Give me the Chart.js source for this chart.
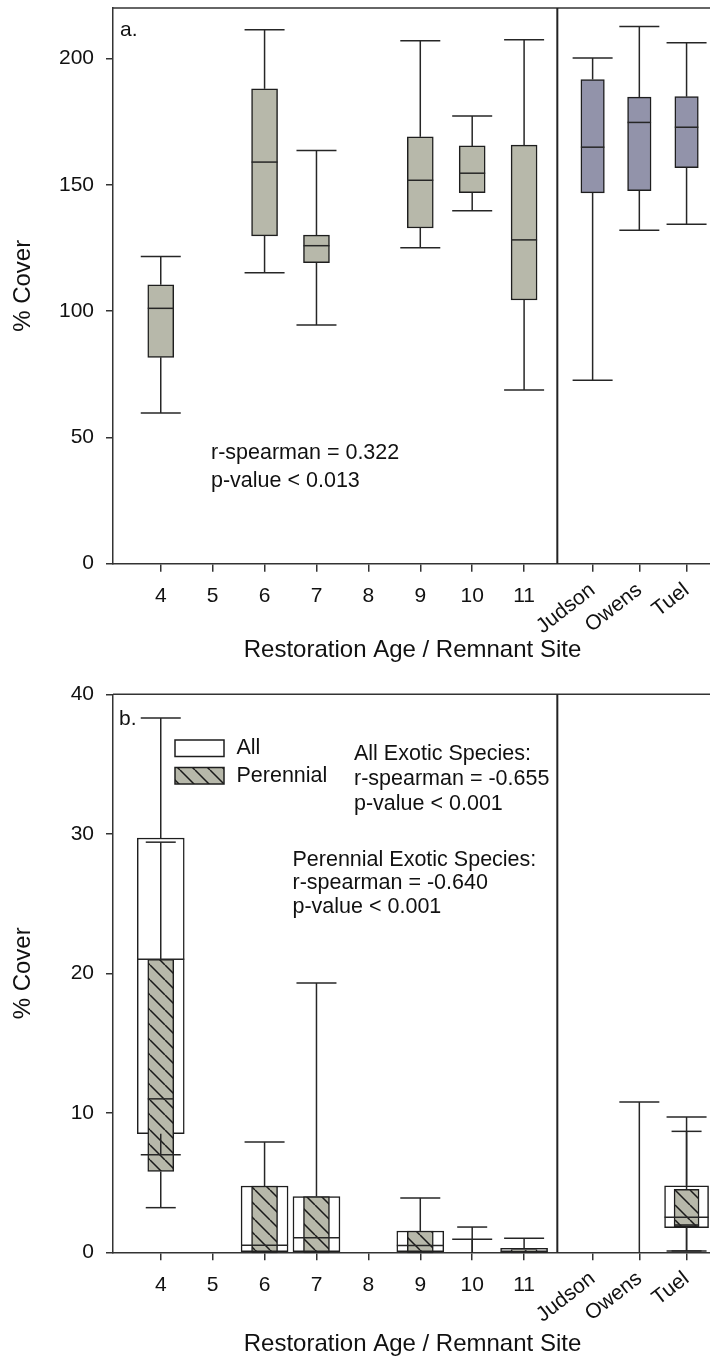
<!DOCTYPE html>
<html>
<head>
<meta charset="utf-8">
<title>% Cover by restoration age and remnant site</title>
<script src="https://cdn.jsdelivr.net/npm/chart.js@4.4.1/dist/chart.umd.min.js"></script>
<style>
  html, body { margin: 0; padding: 0; background: #fff; overflow: hidden; width: 710px; height: 1359px; }
  .panel { position: relative; width: 712px; }
  canvas { display: block; }
</style>
</head>
<body>
<div class="panel"><canvas id="coverChart" width="712" height="665"></canvas></div>
<div class="panel"><canvas id="exoticChart" width="712" height="694"></canvas></div>
<script>
// ---- categories ----
const ages = [4, 5, 6, 7, 8, 9, 10, 11];
const sites = ['Judson', 'Owens', 'Tuel'];
const sampledAges = [4, 6, 7, 9, 10, 11];

// ---- panel a: total % cover (restorations) ----
const coverMin    = [59.7, 115.2, 94.5, 125.1, 139.7, 68.8];
const coverQ1     = [81.7, 129.8, 119.2, 132.9, 146.9, 104.4];
const coverMedian = [101.1, 159.0, 125.9, 151.8, 154.6, 128.2];
const coverQ3     = [110.4, 188.0, 130.1, 169.0, 165.4, 165.7];
const coverMax    = [121.6, 211.4, 163.6, 207.0, 177.2, 207.4];

// ---- panel a: total % cover (remnant sites) ----
const remnantCoverMin    = [72.6, 132.0, 134.4];
const remnantCoverQ1     = [146.8, 147.7, 156.8];
const remnantCoverMedian = [164.9, 174.7, 172.8];
const remnantCoverQ3     = [191.7, 184.7, 184.9];
const remnantCoverMax    = [200.2, 212.7, 206.2];

// ---- panel b: all exotic species (restorations) ----
const allMin    = [7.0, 0, 0, 0, 0, 0];
const allQ1     = [8.5, 0, 0, 0, 0, 0];
const allMedian = [21.0, 0.5, 1.05, 0.48, 0, 0];
const allQ3     = [29.7, 4.75, 4.0, 1.53, 0, 0.29];
const allMax    = [38.3, 7.9, 19.3, 3.9, 0.93, 1.0];

// ---- panel b: perennial exotic species (restorations) ----
const perMin    = [3.2, 0, 0, 0, 0, 0];
const perQ1     = [5.8, 0, 0, 0, 0, 0];
const perMedian = [11.0, 0, 0, 0, 0, 0];
const perQ3     = [21.0, 4.75, 4.0, 1.53, 0, 0.19];
const perMax    = [29.4, 4.75, 4.0, 1.53, 1.81, 0.19];

// ---- panel b: remnant sites ----
const remnantAllMin    = [0, 0, 0.1];
const remnantAllQ1     = [0, 0, 1.76];
const remnantAllMedian = [0, 0, 2.51];
const remnantAllQ3     = [0, 0, 4.77];
const remnantAllMax    = [0, 10.77, 9.7];
const remnantPerMin    = [0, 0, 0.1];
const remnantPerQ1     = [0, 0, 1.84];
const remnantPerMedian = [0, 0, 1.96];
const remnantPerQ3     = [0, 0, 4.52];
const remnantPerMax    = [0, 0, 8.67];

// ---- axis ticks ----
const coverTicks = [0, 50, 100, 150, 200];
const exoticTicks = [0, 10, 20, 30, 40];

// ---- layout of the shared x axis (remnant sites sit after the divider) ----
const SITE_SLOTS = [12.32, 13.22, 14.13];
const DIVIDER_AT = 11.64;
const X_MIN = 3.08;
const X_MAX = 14.62;

const FONT = '"Liberation Sans", Arial, Helvetica, sans-serif';
Chart.defaults.font.family = FONT;
Chart.defaults.color = '#111';

const RESTORED_FILL = '#b7b8aa';
const REMNANT_FILL = '#9293aa';
const hatchFill = makeHatch();

function makeHatch() {
  const s = 15;
  const c = document.createElement('canvas');
  c.width = c.height = s;
  const g = c.getContext('2d');
  g.fillStyle = RESTORED_FILL;
  g.fillRect(0, 0, s, s);
  g.strokeStyle = '#1a1a1a';
  g.lineWidth = 1.5;
  g.beginPath();
  for (const o of [-s, 0, s]) { g.moveTo(o, 0); g.lineTo(o + s, s); }
  g.stroke();
  return g.createPattern(c, 'repeat');
}

function boxDataset(xs, st, style) {
  const data = [];
  xs.forEach((x, i) => { if (st.q3[i] > st.q1[i]) data.push({ x, y: [st.q1[i], st.q3[i]] }); });
  return {
    data,
    backgroundColor: style.fill,
    borderColor: '#1e1e1e',
    borderWidth: 1.5,
    borderSkipped: false,
    barThickness: style.thickness,
    barPercentage: 1,
    categoryPercentage: 1,
    grouped: false,
    order: style.order || 0,
    stats: Object.assign({ x: xs }, st),
    capWidth: style.cap
  };
}

// whiskers, caps and medians, drawn through the chart scales
const whiskerPlugin = {
  id: 'whiskers',
  afterDatasetsDraw(chart) {
    const { ctx, scales: { x, y } } = chart;
    const seg = (x1, y1, x2, y2) => { ctx.beginPath(); ctx.moveTo(x1, y1); ctx.lineTo(x2, y2); ctx.stroke(); };
    ctx.save();
    ctx.strokeStyle = '#262626';
    ctx.lineWidth = 1.5;
    const sets = chart.data.datasets.slice().sort((a, b) => b.order - a.order);
    sets.forEach(ds => {
      const s = ds.stats;
      const hb = ds.barThickness / 2, hc = ds.capWidth / 2;
      s.x.forEach((xv, i) => {
        const cx = x.getPixelForValue(xv);
        if (s.max[i] > s.q3[i]) {
          const yMax = y.getPixelForValue(s.max[i]);
          seg(cx, y.getPixelForValue(s.q3[i]), cx, yMax);
          seg(cx - hc, yMax, cx + hc, yMax);
        }
        if (s.min[i] < s.q1[i]) {
          const yMin = y.getPixelForValue(s.min[i]);
          seg(cx, y.getPixelForValue(s.q1[i]), cx, yMin);
          seg(cx - hc, yMin, cx + hc, yMin);
        }
        if (s.q3[i] > s.q1[i]) {
          const yMed = y.getPixelForValue(s.med[i]);
          seg(cx - hb, yMed, cx + hb, yMed);
        }
      });
    });
    ctx.restore();
  }
};

// top border, divider between restorations and remnants, rotated site names
const framePlugin = {
  id: 'frame',
  afterDraw(chart) {
    const { ctx, chartArea: a, scales: { x } } = chart;
    ctx.save();
    ctx.strokeStyle = '#333';
    ctx.lineWidth = 1.5;
    ctx.beginPath(); ctx.moveTo(a.left, a.top); ctx.lineTo(a.right, a.top); ctx.stroke();
    const dx = x.getPixelForValue(DIVIDER_AT);
    ctx.strokeStyle = '#222';
    ctx.lineWidth = 2;
    ctx.beginPath(); ctx.moveTo(dx, a.top); ctx.lineTo(dx, a.bottom); ctx.stroke();
    ctx.fillStyle = '#111';
    ctx.font = '21px ' + FONT;
    ctx.textAlign = 'right';
    ctx.textBaseline = 'middle';
    sites.forEach((name, i) => {
      ctx.save();
      ctx.translate(x.getPixelForValue(SITE_SLOTS[i]), a.bottom + 24);
      ctx.rotate(-38 * Math.PI / 180);
      ctx.fillText(name, 0, 0);
      ctx.restore();
    });
    ctx.restore();
  }
};

function notesPlugin(notes, legend) {
  return {
    id: 'notes',
    afterDraw(chart) {
      const { ctx } = chart;
      ctx.save();
      ctx.fillStyle = '#111';
      ctx.textAlign = 'left';
      ctx.textBaseline = 'middle';
      notes.forEach(n => {
        ctx.font = n.size + 'px ' + FONT;
        ctx.fillText(n.text, n.x, n.y);
      });
      if (legend) {
        legend.forEach(l => {
          ctx.fillStyle = l.fill;
          ctx.fillRect(l.x, l.y, l.w, l.h);
          ctx.strokeStyle = '#1e1e1e';
          ctx.lineWidth = 1.5;
          ctx.strokeRect(l.x, l.y, l.w, l.h);
          ctx.fillStyle = '#111';
          ctx.font = '21.5px ' + FONT;
          ctx.fillText(l.label, l.x + l.w + 12.5, l.y + l.h / 2);
        });
      }
      ctx.restore();
    }
  };
}

function xScale(height, titlePad) {
  return {
    type: 'linear',
    position: 'bottom',
    offset: false,
    min: X_MIN,
    max: X_MAX,
    afterBuildTicks: s => { s.ticks = [...ages, ...SITE_SLOTS].map(v => ({ value: v })); },
    afterFit: s => { s.height = height; s.paddingLeft = 0; s.paddingRight = 0; },
    ticks: {
      autoSkip: false, maxRotation: 0, minRotation: 0, padding: 12,
      color: '#111', font: { size: 21 },
      callback: v => (ages.includes(v) ? String(v) : '')
    },
    grid: { offset: false, drawOnChartArea: false, tickLength: 8, color: '#333', lineWidth: 1.5 },
    border: { color: '#333', width: 1.5 },
    title: {
      display: true, text: 'Restoration Age / Remnant Site', color: '#111',
      font: { size: 24 }, padding: { top: titlePad, bottom: 0 }
    }
  };
}

function yScale(max, tickValues) {
  return {
    type: 'linear',
    min: 0,
    max,
    afterBuildTicks: s => { s.ticks = tickValues.map(v => ({ value: v })); },
    afterFit: s => { s.width = 113; s.paddingTop = 0; s.paddingBottom = 0; },
    ticks: { padding: 12, color: '#111', font: { size: 21 } },
    grid: { drawOnChartArea: false, tickLength: 7, color: '#333', lineWidth: 1.5 },
    border: { color: '#333', width: 1.5 },
    title: { display: true, text: '% Cover', color: '#111', font: { size: 24 }, padding: { top: 9, bottom: 0 } }
  };
}

function baseOptions(top, xHeight, titlePad, yMax, yTicks) {
  return {
    responsive: false,
    animation: false,
    layout: { padding: { top, left: 0, right: 0, bottom: 0 } },
    plugins: { legend: { display: false }, tooltip: { enabled: false } },
    scales: { x: xScale(xHeight, titlePad), y: yScale(yMax, yTicks) }
  };
}

// panel a
new Chart(document.getElementById('coverChart'), {
  type: 'bar',
  data: {
    datasets: [
      boxDataset(sampledAges,
        { min: coverMin, q1: coverQ1, med: coverMedian, q3: coverQ3, max: coverMax },
        { fill: RESTORED_FILL, thickness: 26, cap: 40 }),
      boxDataset(SITE_SLOTS,
        { min: remnantCoverMin, q1: remnantCoverQ1, med: remnantCoverMedian, q3: remnantCoverQ3, max: remnantCoverMax },
        { fill: REMNANT_FILL, thickness: 23.5, cap: 40 })
    ]
  },
  options: baseOptions(8, 101.3, 0, 220, coverTicks),
  plugins: [whiskerPlugin, framePlugin, notesPlugin([
    { text: 'a.', x: 120, y: 30, size: 21 },
    { text: 'r-spearman = 0.322', x: 211, y: 453, size: 21.5 },
    { text: 'p-value < 0.013', x: 211, y: 481.5, size: 21.5 }
  ])]
});

// panel b
new Chart(document.getElementById('exoticChart'), {
  type: 'bar',
  data: {
    datasets: [
      boxDataset(sampledAges,
        { min: perMin, q1: perQ1, med: perMedian, q3: perQ3, max: perMax },
        { fill: hatchFill, thickness: 26, cap: 30, order: 0 }),
      boxDataset(SITE_SLOTS,
        { min: remnantPerMin, q1: remnantPerQ1, med: remnantPerMedian, q3: remnantPerQ3, max: remnantPerMax },
        { fill: hatchFill, thickness: 25, cap: 30, order: 0 }),
      boxDataset(sampledAges,
        { min: allMin, q1: allQ1, med: allMedian, q3: allQ3, max: allMax },
        { fill: '#ffffff', thickness: 47, cap: 40, order: 1 }),
      boxDataset(SITE_SLOTS,
        { min: remnantAllMin, q1: remnantAllQ1, med: remnantAllMedian, q3: remnantAllQ3, max: remnantAllMax },
        { fill: '#ffffff', thickness: 44, cap: 40, order: 1 })
    ]
  },
  options: baseOptions(29.3, 106.7, 4.6, 40, exoticTicks),
  plugins: [whiskerPlugin, framePlugin, notesPlugin([
    { text: 'b.', x: 119, y: 54, size: 21 },
    { text: 'All Exotic Species:', x: 354, y: 89.5, size: 21.5 },
    { text: 'r-spearman = -0.655', x: 354, y: 114, size: 21.5 },
    { text: 'p-value < 0.001', x: 354, y: 139, size: 21.5 },
    { text: 'Perennial Exotic Species:', x: 292.5, y: 195, size: 21.5 },
    { text: 'r-spearman = -0.640', x: 292.5, y: 218.5, size: 21.5 },
    { text: 'p-value < 0.001', x: 292.5, y: 242.5, size: 21.5 }
  ], [
    { label: 'All', fill: '#ffffff', x: 175, y: 75, w: 49, h: 16.5 },
    { label: 'Perennial', fill: hatchFill, x: 175, y: 102.5, w: 49, h: 16.5 }
  ])]
});
</script>
</body>
</html>
